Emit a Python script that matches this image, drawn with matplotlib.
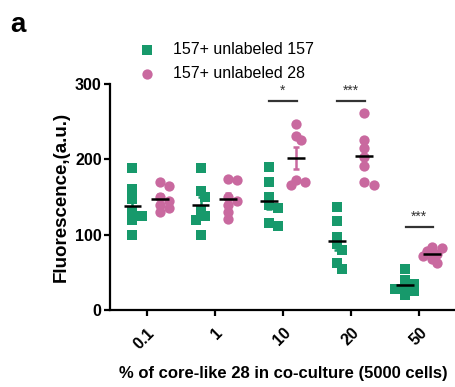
import numpy as np
import matplotlib.pyplot as plt

plt.rcParams['font.family'] = ['Liberation Sans', 'DejaVu Sans']

# % of core-like 28 cells in the co-culture
groups = ['0.1', '1', '10', '20', '50']

# fluorescence (a.u.) of each replicate, one list per group
unlabeled_157 = [
    [188, 160, 148, 130, 125, 120, 100],
    [188, 158, 150, 131, 125, 120, 100],
    [190, 170, 150, 140, 135, 112, 115],
    [137, 118, 97, 88, 80, 63, 55],
    [55, 40, 35, 30, 28, 25, 20],
]
unlabeled_28 = [
    [170, 165, 150, 145, 140, 135, 130],
    [173, 174, 150, 145, 139, 130, 121],
    [247, 231, 225, 172, 170, 166],
    [261, 226, 215, 203, 191, 166, 170],
    [84, 82, 78, 75, 72, 68, 62],
]

# significance between the two series (group index, label, bar height)
sig_groups = [2, 3, 4]
sig_labels = ['*', '***', '***']
sig_heights = [278, 278, 110]

green = '#17996b'
pink = '#c9699f'

# pixel scale of the axes, used for spreading overlapping dots
X_PX = 68.0
Y_PX = 226.0 / 300.0


def swarm(vals, center, min_dist=6.5, step=0.07):
    vals = np.asarray(vals, dtype=float)
    xs = np.empty(len(vals))
    placed = []
    for i in np.argsort(vals)[::-1]:
        for k in [0, 1, -1, 2, -2, 3, -3]:
            x = center + k * step
            ok = all(((x - px) * X_PX) ** 2 + ((vals[i] - py) * Y_PX) ** 2 >= min_dist ** 2
                     for px, py in placed)
            if ok:
                break
        placed.append((x, vals[i]))
        xs[i] = x
    return xs


def plot_series(ax, data, offset, color, marker, size, label):
    for g, vals in enumerate(data):
        vals = np.asarray(vals, dtype=float)
        c = g + offset
        xs = swarm(vals, c)
        ax.scatter(xs, vals, s=size, c=color, marker=marker, linewidths=0,
                   zorder=3, label=label if g == 0 else None)
        m = vals.mean()
        sem = vals.std(ddof=1) / np.sqrt(len(vals))
        ax.errorbar(c, m, yerr=sem, fmt='none', ecolor=color, elinewidth=1.8,
                    capsize=2.5, capthick=1.8, zorder=4)
        ax.plot([c - 0.13, c + 0.13], [m, m], color='black', lw=1.8, zorder=5,
                solid_capstyle='butt')


def main():
    fig = plt.figure(figsize=(4.56, 3.87), dpi=100)
    ax = fig.add_axes([110 / 456, 77 / 387, 346 / 456, 226 / 387])

    plot_series(ax, unlabeled_157, -0.21, green, 's', 42, '157+ unlabeled 157')
    plot_series(ax, unlabeled_28, 0.19, pink, 'o', 55, '157+ unlabeled 28')

    # significance bars above each pair
    for g, lab, y in zip(sig_groups, sig_labels, sig_heights):
        ax.plot([g - 0.2, g + 0.2], [y, y], color='#333333', lw=1.6)
        ax.text(g, y + 4, lab, ha='center', va='bottom', fontsize=10, color='#333333')

    ax.set_xlim(-0.54, 4.54)
    ax.set_ylim(0, 300)
    ax.set_yticks([0, 100, 200, 300])
    ax.set_xticks(range(len(groups)))
    ax.set_xticklabels(groups, rotation=45, ha='right', va='top', rotation_mode='anchor')

    for side in ['top', 'right']:
        ax.spines[side].set_visible(False)
    for side in ['left', 'bottom']:
        ax.spines[side].set_linewidth(1.6)
    ax.tick_params(axis='both', direction='out', length=4, width=1.6, labelsize=11.5)
    ax.tick_params(axis='x', pad=7)
    ax.tick_params(axis='y', pad=2)
    for t in ax.get_xticklabels() + ax.get_yticklabels():
        t.set_fontweight('bold')

    ax.set_ylabel('Fluorescence,(a.u.)', fontsize=13.5, fontweight='bold', labelpad=4)
    ax.set_xlabel('% of core-like 28 in co-culture (5000 cells)', fontsize=12,
                  fontweight='bold', labelpad=10)

    ax.legend(loc='upper left', bbox_to_anchor=(139 / 456, 1 - 42 / 387),
              bbox_transform=fig.transFigure, frameon=False, fontsize=11.5,
              handletextpad=1.1, labelspacing=0.55, handlelength=1.0,
              borderpad=0, borderaxespad=0)

    fig.text(10 / 456, 1 - 12 / 387, 'a', fontsize=20, fontweight='bold', va='top', ha='left')

    fig.savefig('out.png', dpi=100)


if __name__ == '__main__':
    main()
